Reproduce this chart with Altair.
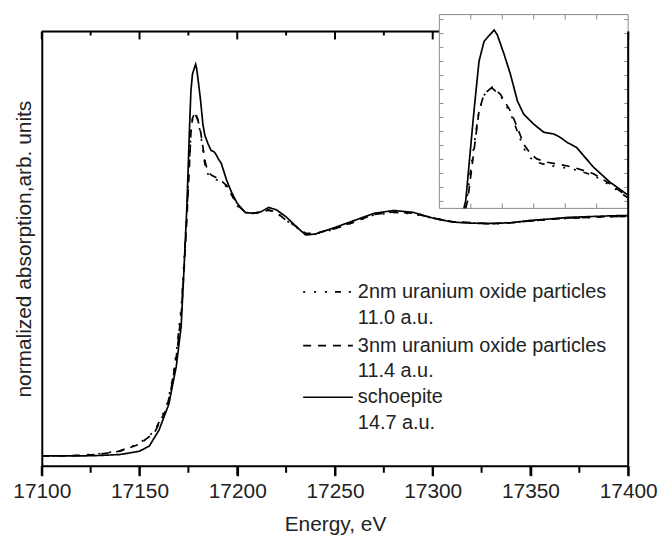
import altair as alt
import pandas as pd

# ---------------- data ----------------
series_names = ["2nm uranium oxide particles", "3nm uranium oxide particles", "schoepite"]
series_values = ["11.0 a.u.", "11.4 a.u.", "14.7 a.u."]

energy_schoepite = [17100, 17110, 17120, 17130, 17140, 17150, 17155, 17160, 17165,
                    17168.8, 17171.3, 17172.5, 17173.9, 17174.2, 17175.5, 17176.3, 17177.1,
                    17178.7, 17179.2, 17180.3, 17181.3, 17182.4, 17183.4, 17185.0, 17186.6,
                    17188.2, 17189.2, 17190.3, 17191.8, 17194.5, 17197.1, 17200, 17204,
                    17208, 17212, 17216, 17220, 17225, 17230, 17235, 17240, 17250, 17260,
                    17270, 17280, 17290, 17300, 17310, 17320, 17330, 17340, 17350, 17360,
                    17370, 17380, 17390, 17400]
abs_schoepite = [0, 0, 0, 0.002, 0.006, 0.02, 0.042, 0.11, 0.22,
                 0.38, 0.55, 0.75, 1.0, 1.054, 1.373, 1.551, 1.622,
                 1.663, 1.646, 1.575, 1.504, 1.409, 1.362, 1.326, 1.297,
                 1.291, 1.279, 1.261, 1.243, 1.172, 1.119, 1.072, 1.034,
                 1.03, 1.036, 1.055, 1.045, 1.015, 0.975, 0.938, 0.942, 0.97, 1.0,
                 1.03, 1.042, 1.034, 1.01, 0.993, 0.988, 0.987, 0.99, 1.0, 1.006,
                 1.013, 1.016, 1.019, 1.021]

energy_nano = [17100, 17110, 17120, 17130, 17140, 17150, 17157.7, 17163.8, 17166.8,
               17169.3, 17171.5, 17173, 17174.2, 17174.5, 17175.5, 17176.3, 17177.1,
               17178.4, 17179.7, 17181.3, 17182.4, 17183.4, 17184.5, 17185.5, 17187.1,
               17188.7, 17191.3, 17194.5, 17197.1, 17200, 17204, 17208, 17212, 17216,
               17220, 17225, 17230, 17235, 17240, 17250, 17260, 17270, 17280, 17290,
               17300, 17310, 17320, 17330, 17340, 17350, 17360, 17370, 17380, 17390, 17400]
abs_3nm = [0, 0, 0.002, 0.008, 0.02, 0.05, 0.10, 0.20, 0.31,
           0.45, 0.62, 0.82, 1.0, 1.054, 1.231, 1.373, 1.433,
           1.459, 1.433, 1.373, 1.314, 1.255, 1.22, 1.202, 1.19,
           1.184, 1.172, 1.149, 1.113, 1.066, 1.035, 1.03, 1.035, 1.045,
           1.035, 1.0, 0.975, 0.945, 0.945, 0.965, 0.995, 1.025, 1.036, 1.03,
           1.01, 0.995, 0.99, 0.986, 0.99, 0.998, 1.005, 1.01, 1.013, 1.016, 1.018]
abs_2nm = [0, 0, 0.003, 0.01, 0.022, 0.053, 0.105, 0.21, 0.32,
           0.47, 0.65, 0.86, 1.03, 1.08, 1.25, 1.375, 1.43,
           1.455, 1.428, 1.365, 1.3, 1.24, 1.205, 1.19, 1.18,
           1.175, 1.165, 1.143, 1.108, 1.062, 1.033, 1.028, 1.033, 1.043,
           1.033, 1.0, 0.972, 0.942, 0.943, 0.963, 0.993, 1.023, 1.034, 1.028,
           1.009, 0.994, 0.989, 0.985, 0.989, 0.997, 1.004, 1.009, 1.012, 1.015, 1.017]

x_ticks_major = [17100, 17150, 17200, 17250, 17300, 17350, 17400]
x_ticks_minor = [17125, 17175, 17225, 17275, 17325, 17375]
inset_x_ticks = [17175, 17180, 17185, 17190, 17195]
inset_y_ticks = [1.05, 1.1, 1.15, 1.2, 1.25, 1.3, 1.35, 1.4, 1.45, 1.5, 1.55, 1.6, 1.65, 1.7]

X_DOM = [17100, 17400]
Y_DOM = [-0.042, 1.802]
IX_DOM = [17170, 17200]
IY_DOM = [1.025, 1.718]

# ---------------- layout / style ----------------
W, H = 590, 437
IX0, IX1 = 400, 590          # inset horizontal pixel span inside the plot area
IY0, IY1 = 178, -17          # inset bottom / top pixel positions
FONT = "Liberation Sans"
INK = "#222"
FRAME = "#8a8a8a"
dashes = [[2, 9, 2, 9, 2, 8, 6, 8], [8, 7], [1, 0]]

rows = []
for name, xs, ys in [(series_names[0], energy_nano, abs_2nm),
                     (series_names[1], energy_nano, abs_3nm),
                     (series_names[2], energy_schoepite, abs_schoepite)]:
    for e, a in zip(xs, ys):
        rows.append({"E": e, "A": a, "series": name})
df = pd.DataFrame(rows)

xs_main = alt.Scale(domain=X_DOM, nice=False, zero=False)
ys_main = alt.Scale(domain=Y_DOM, nice=False, zero=False)
xs_in = alt.Scale(domain=IX_DOM, range=[IX0, IX1], nice=False, zero=False)
ys_in = alt.Scale(domain=IY_DOM, range=[IY0, IY1], nice=False, zero=False, clamp=True)
dash_enc = alt.StrokeDash("series:N", scale=alt.Scale(domain=series_names, range=dashes), legend=None)

one = pd.DataFrame({"k": [0]})

main = alt.Chart(df).mark_line(color="black", strokeWidth=1.7, clip=True).encode(
    x=alt.X("E:Q", scale=xs_main,
            axis=alt.Axis(orient="bottom", values=x_ticks_major, format="d", ticks=True,
                          tickSize=10, tickWidth=2, tickColor="black", tickOpacity=1,
                          domainColor="black", domainWidth=2,
                          labelFontSize=21, labelFont=FONT, labelColor=INK, labelPadding=5,
                          labelFlush=False, labelOverlap=False,
                          title="Energy, eV", titleFont=FONT, titleFontSize=21,
                          titleFontWeight="normal", titleColor=INK, titlePadding=12, grid=False)),
    y=alt.Y("A:Q", scale=ys_main,
            axis=alt.Axis(orient="left", labels=False, ticks=False, grid=False,
                          domainColor="black", domainWidth=2,
                          title="normalized absorption,arb. units", titleFont=FONT,
                          titleFontSize=21, titleFontWeight="normal", titleColor=INK,
                          titlePadding=7)),
    strokeDash=dash_enc,
)

minor_df = pd.DataFrame({"t": x_ticks_minor})
major_df = pd.DataFrame({"t": x_ticks_major})

minor_bottom = alt.Chart(minor_df).mark_rule(color="black", strokeWidth=2).encode(
    x=alt.X("t:Q", scale=xs_main, axis=None), y=alt.value(H), y2=alt.value(H + 7))
major_bottom = alt.Chart(major_df).mark_rule(color="black", strokeWidth=2).encode(
    x=alt.X("t:Q", scale=xs_main, axis=None), y=alt.value(H), y2=alt.value(H + 10))
top_major = alt.Chart(major_df).mark_rule(color="black", strokeWidth=2).encode(
    x=alt.X("t:Q", scale=xs_main, axis=None), y=alt.value(0), y2=alt.value(8))
top_minor = alt.Chart(minor_df).mark_rule(color="black", strokeWidth=2).encode(
    x=alt.X("t:Q", scale=xs_main, axis=None), y=alt.value(0), y2=alt.value(4))
top_border = alt.Chart(one).mark_rule(color="black", strokeWidth=2).encode(
    x=alt.value(0), x2=alt.value(W), y=alt.value(0))

inset_box = pd.DataFrame({"x0": [IX_DOM[0]], "x1": [IX_DOM[1]], "y0": [IY_DOM[0]], "y1": [IY_DOM[1]]})
inset_rect = alt.Chart(inset_box).mark_rect(fill="white", stroke=FRAME, strokeWidth=1).encode(
    x=alt.X("x0:Q", scale=xs_in, axis=None), x2="x1:Q",
    y=alt.Y("y0:Q", scale=ys_in, axis=None), y2="y1:Q",
)

ix_df = pd.DataFrame({"t": inset_x_ticks})
iy_df = pd.DataFrame({"t": inset_y_ticks})
inset_ticks = [
    alt.Chart(ix_df).mark_rule(color=FRAME, strokeWidth=1).encode(
        x=alt.X("t:Q", scale=xs_in, axis=None), y=alt.value(IY0), y2=alt.value(IY0 - 5)),
    alt.Chart(ix_df).mark_rule(color=FRAME, strokeWidth=1).encode(
        x=alt.X("t:Q", scale=xs_in, axis=None), y=alt.value(IY1), y2=alt.value(IY1 + 5)),
    alt.Chart(iy_df).mark_rule(color=FRAME, strokeWidth=1).encode(
        y=alt.Y("t:Q", scale=ys_in, axis=None), x=alt.value(IX0), x2=alt.value(IX0 + 4)),
    alt.Chart(iy_df).mark_rule(color=FRAME, strokeWidth=1).encode(
        y=alt.Y("t:Q", scale=ys_in, axis=None), x=alt.value(IX1 - 4), x2=alt.value(IX1)),
]

inset_lines = alt.Chart(df).transform_filter(
    (alt.datum.E >= IX_DOM[0]) & (alt.datum.E <= IX_DOM[1]) & (alt.datum.A >= 0.99)
).mark_line(color="black", strokeWidth=1.7).encode(
    x=alt.X("E:Q", scale=xs_in, axis=None),
    y=alt.Y("A:Q", scale=ys_in, axis=None),
    strokeDash=dash_enc,
)

right_border = alt.Chart(one).mark_rule(color="black", strokeWidth=2).encode(
    x=alt.value(W), y=alt.value(0), y2=alt.value(H))

legend_layers = []
row_y0 = 262
row_gap = 26
for i, (name, val) in enumerate(zip(series_names, series_values)):
    y1 = row_y0 + i * 2 * row_gap + (2 if i > 0 else 0)
    ld = pd.DataFrame({"name": [name], "val": [val]})
    legend_layers.append(
        alt.Chart(ld).mark_rule(color="black", strokeWidth=1.7, strokeDash=dashes[i]).encode(
            x=alt.value(263), x2=alt.value(313), y=alt.value(y1))
    )
    legend_layers.append(
        alt.Chart(ld).mark_text(align="left", baseline="middle", font=FONT, fontSize=20,
                                color=INK).encode(
            x=alt.value(318), y=alt.value(y1), text="name:N")
    )
    legend_layers.append(
        alt.Chart(ld).mark_text(align="left", baseline="middle", font=FONT, fontSize=20,
                                color=INK).encode(
            x=alt.value(318), y=alt.value(y1 + row_gap), text="val:N")
    )

chart = alt.layer(
    main, major_bottom, minor_bottom, top_border, top_major, top_minor,
    inset_rect, *inset_ticks, inset_lines, right_border,
    *legend_layers
).resolve_scale(
    x="independent", y="independent"
).properties(
    width=W, height=H,
    autosize=alt.AutoSizeParams(type="none"),
    padding={"left": 34, "top": 22, "right": 30, "bottom": 70},
).configure_view(stroke=None).configure(background="white")

chart.save("out.html", embed_options={"renderer": "svg", "actions": False})
